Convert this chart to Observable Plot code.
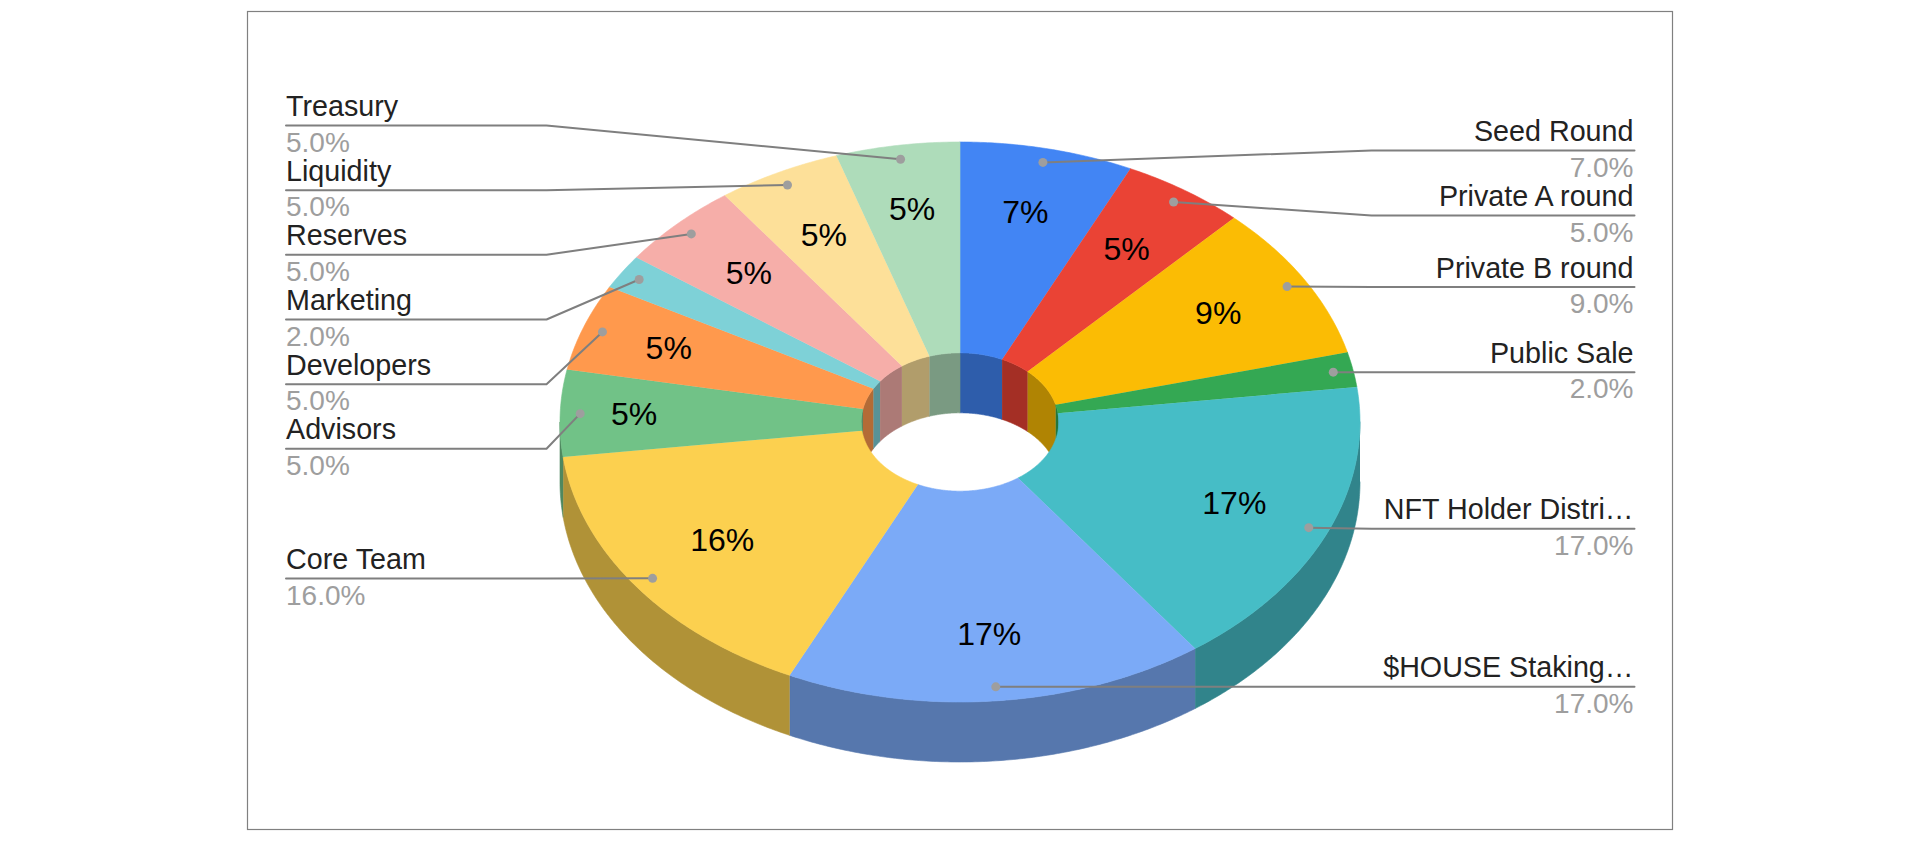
<!DOCTYPE html>
<html>
<head>
<meta charset="utf-8">
<script src="https://cdn.jsdelivr.net/npm/d3@7"></script>
<script src="https://cdn.jsdelivr.net/npm/@observablehq/plot@0.6"></script>
<style>
html,body{margin:0;padding:0;background:#fff;overflow:hidden}
svg{display:block}
</style>
</head>
<body>
<div id="chart"></div>
<script>
// Data, clockwise from 12 o'clock
const names = ["Seed Round","Private A round","Private B round","Public Sale","NFT Holder Distri…","$HOUSE Staking…","Core Team","Advisors","Developers","Marketing","Reserves","Liquidity","Treasury"];
const shares = [7,5,9,2,17,17,16,5,5,2,5,5,5];
const colors = ["#4285f4","#ea4335","#fbbc04","#34a853","#46bdc6","#7baaf7","#fcd04f","#71c287","#ff994d","#7ed1d7","#f6aea9","#fde099","#aedcba"];

// Layout (page pixels)
const W = 1920, H = 844, CX = 959.5, CY = 421.5, RX = 400, RY = 280, DEPTH = 60, HOLE = 0.247, SHADE = 0.7;
const rowY = [150,215,286.6,371.7,528.2,686.3,578,448.3,383.7,319,254.3,189.7,125];
const pctDx = [0,-2,0,0,-1,1,5,-26,-9,0,1,0,-1];
const pctDy = [-4,1,-1,0,-2,4,-5,-1,-2,0,0,1,-5];
const rightSide = [true,true,true,true,true,true,false,false,false,false,false,false,false];
const leftEnd = 285.5, leftElbow = 546, rightEnd = 1634, rightElbow = 1371, leftTextX = 285.5, rightTextX = 1633;
const unitX = px => (px - CX) / RX, unitY = py => (py - CY) / RY;
const dep = DEPTH / RY;

const rad = d => d * Math.PI / 180;
const px = (a, r) => Math.sin(rad(a)) * r;
const py = (a, r) => -Math.cos(rad(a)) * r;
const shade = c => { const q = d3.rgb(c); return d3.rgb(q.r*SHADE, q.g*SHADE, q.b*SHADE).formatHex(); };

let run = 0;
const slices = names.map((name, i) => {
  const a0 = run / 100 * 360; run += shares[i]; const a1 = run / 100 * 360;
  return {name, share: shares[i], color: colors[i], a0, a1, mid: (a0 + a1) / 2, right: rightSide[i], row: rowY[i], i};
});
const arc = (a0, a1) => { const n = Math.max(2, Math.ceil((a1 - a0) / 0.5)); return d3.range(n + 1).map(k => a0 + (a1 - a0) * k / n); };

// Slice polygons
const topFaces = slices.flatMap(s => [
  ...arc(s.a0, s.a1).map(a => ({x: px(a, 1), y: py(a, 1), id: s.i, c: s.color})),
  ...arc(s.a0, s.a1).reverse().map(a => ({x: px(a, HOLE), y: py(a, HOLE), id: s.i, c: s.color}))
]);
const wall = (s, from, to, r) => {
  const lo = Math.max(s.a0, from), hi = Math.min(s.a1, to);
  if (hi <= lo) return [];
  const id = s.i + "_" + from;
  return [
    ...arc(lo, hi).map(a => ({x: px(a, r), y: py(a, r), id, c: shade(s.color)})),
    ...arc(lo, hi).reverse().map(a => ({x: px(a, r), y: py(a, r) + dep, id, c: shade(s.color)}))
  ];
};
const outerWalls = slices.flatMap(s => wall(s, 90, 270, 1));
const innerWalls = slices.flatMap(s => [...wall(s, 0, 90, HOLE), ...wall(s, 270, 360, HOLE)]);

// Annotations
const dots = slices.map(s => ({...s, x: px(s.mid, 0.95), y: py(s.mid, 0.95)}));
const pct = slices.filter(s => s.share > 2).map(s => ({...s, x: px(s.mid, 0.75) + pctDx[s.i] / RX, y: py(s.mid, 0.75) + pctDy[s.i] / RY}));
const leaders = dots.flatMap(d => [
  {x: d.x, y: d.y, id: d.i},
  {x: unitX(d.right ? rightElbow : leftElbow), y: unitY(d.row), id: d.i},
  {x: unitX(d.right ? rightEnd : leftEnd), y: unitY(d.row), id: d.i}
]);
const labels = slices.map(s => ({...s, x: unitX(s.right ? rightTextX : leftTextX), y: unitY(s.row)}));
const FONT = "Liberation Sans, Arial, sans-serif";
const NAME = 28.7, VALUE = 28;
const polyOpts = {x: "x", y: "y", z: "id", fill: "c", stroke: "c", strokeWidth: 0.6};

const chart = Plot.plot({
  width: W, height: H, margin: 0,
  x: {domain: [unitX(0), unitX(W)], range: [0, W], axis: null},
  y: {domain: [unitY(0), unitY(H)], range: [0, H], axis: null},
  color: {type: "identity"},
  style: {background: "#fff", fontFamily: FONT},
  marks: [
    Plot.frame({stroke: "#808080", strokeWidth: 1.2, insetLeft: 247, insetRight: W - 1672, insetTop: 11, insetBottom: H - 829}),
    Plot.line(outerWalls, polyOpts),
    Plot.line(innerWalls, polyOpts),
    Plot.line(topFaces, polyOpts),
    Plot.text(pct, {x: "x", y: "y", text: d => d.share + "%", fontSize: 32, fill: "#000", fontFamily: FONT}),
    Plot.line(leaders, {x: "x", y: "y", z: "id", stroke: "#7f7f7f", strokeWidth: 2, curve: "linear"}),
    Plot.dot(dots, {x: "x", y: "y", r: 4.5, fill: "#9e9e9e", stroke: "none"}),
    Plot.text(labels, {x: "x", y: "y", text: "name", dy: -18.7, fontSize: NAME, fill: "#222", fontFamily: FONT,
      textAnchor: "start", filter: d => !d.right}),
    Plot.text(labels, {x: "x", y: "y", text: "name", dy: -18.7, fontSize: NAME, fill: "#222", fontFamily: FONT,
      textAnchor: "end", filter: d => d.right}),
    Plot.text(labels, {x: "x", y: "y", text: d => d3.format(".1f")(d.share) + "%", dy: 17.2, fontSize: VALUE, fill: "#9e9e9e", fontFamily: FONT,
      textAnchor: "start", filter: d => !d.right}),
    Plot.text(labels, {x: "x", y: "y", text: d => d3.format(".1f")(d.share) + "%", dy: 17.2, fontSize: VALUE, fill: "#9e9e9e", fontFamily: FONT,
      textAnchor: "end", filter: d => d.right})
  ]
});
document.getElementById("chart").append(chart);
</script>
</body>
</html>
